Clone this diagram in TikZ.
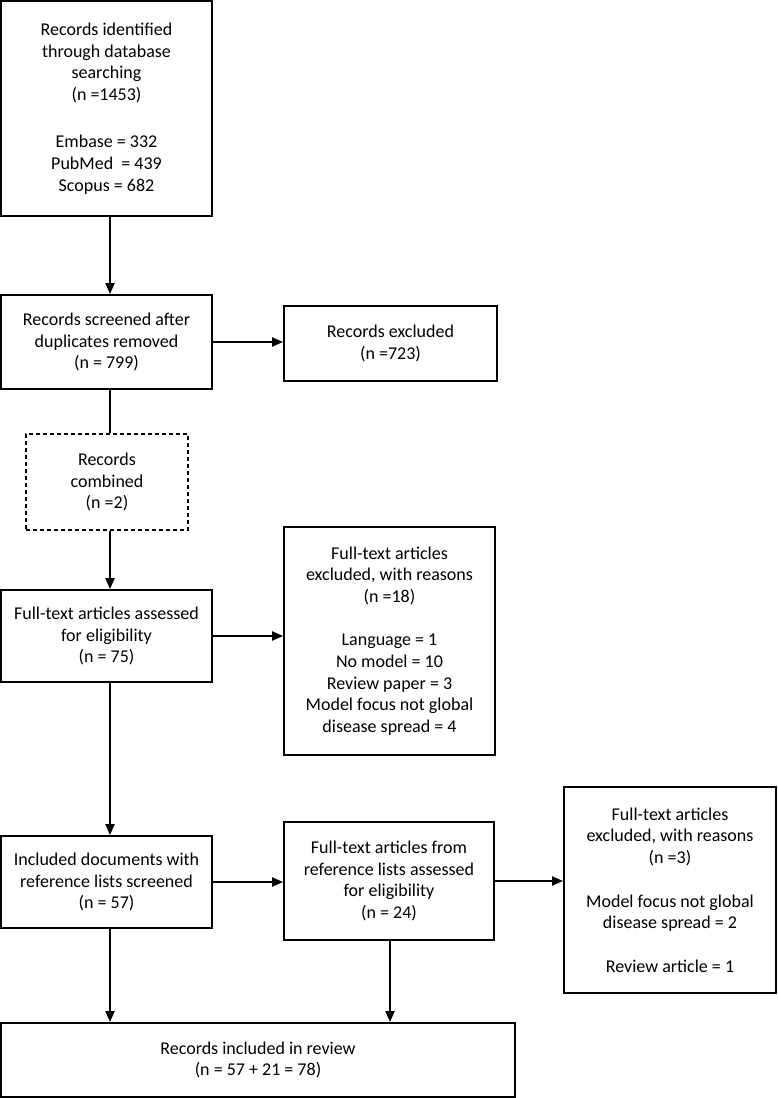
\documentclass[tikz,border=0pt]{standalone}
\usepackage{fontspec}
\setmainfont{Carlito}
\usetikzlibrary{arrows.meta}
\tikzset{
  box/.style={draw, line width=1.8pt, align=center, inner sep=0pt,
    font=\fontsize{18}{21.7}\selectfont},
  dbox/.style={box, line width=1.6pt, dash pattern=on 4pt off 3pt},
  arr/.style={line width=2pt, -{Triangle[length=11pt,width=9pt]}},
  ln/.style={line width=2pt}
}
\begin{document}
\begin{tikzpicture}[x=1pt,y=-1pt]
\useasboundingbox (0,0) rectangle (777,1098);
\node[box, minimum width=211pt, minimum height=215pt] (b1) at (106.5,108.5)
  {Records identified\\through database\\searching\\(n =1453)\\[25.5pt]Embase = 332\\PubMed\ \ = 439\\Scopus = 682};
\node[box, minimum width=211pt, minimum height=94pt] (b2) at (106.5,342)
  {Records screened after\\duplicates removed\\(n = 799)};
\node[box, minimum width=213pt, minimum height=75pt] (ex1) at (390.5,343.5)
  {Records excluded\\(n =723)};
\node[dbox, minimum width=162pt, minimum height=96pt] (comb) at (107,482)
  {Records\\combined\\(n =2)};
\node[box, minimum width=211pt, minimum height=92pt] (b3) at (106.5,636)
  {Full-text articles assessed\\for eligibility\\(n = 75)};
\node[box, minimum width=211pt, minimum height=228pt] (ex2) at (389.5,641)
  {Full-text articles\\excluded, with reasons\\(n =18)\\[21.7pt]Language = 1\\No model = 10\\Review paper = 3\\Model focus not global\\disease spread = 4};
\node[box, minimum width=211pt, minimum height=92pt] (b4) at (106.5,882)
  {Included documents with\\reference lists screened\\(n = 57)};
\node[box, minimum width=210pt, minimum height=118pt] (b5) at (389,881)
  {Full-text articles from\\reference lists assessed\\for eligibility\\(n = 24)};
\node[box, minimum width=212pt, minimum height=206pt] (ex3) at (670,890)
  {Full-text articles\\excluded, with reasons\\(n =3)\\[21.7pt]Model focus not global\\disease spread = 2\\[21.7pt]Review article = 1};
\node[box, minimum width=514pt, minimum height=74pt] (b7) at (258,1060)
  {Records included in review\\(n = 57 + 21 = 78)};

\draw[arr] ([xshift=3.5pt]b1.south) -- ([xshift=3.5pt]b2.north);
\draw[arr] (b2.east) -- (b2.east -| ex1.west);
\draw[ln] ([xshift=3.5pt]b2.south) -- ([xshift=3pt]comb.north);
\draw[arr] ([xshift=3pt]comb.south) -- ([xshift=3.5pt]b3.north);
\draw[arr] (b3.east) -- (b3.east -| ex2.west);
\draw[arr] ([xshift=3.5pt]b3.south) -- ([xshift=3.5pt]b4.north);
\draw[arr] (b4.east) -- (b4.east -| b5.west);
\draw[arr] (b5.east) -- (b5.east -| ex3.west);
\draw[arr] ([xshift=3.5pt]b4.south) -- ([xshift=3.5pt]b4.south |- b7.north);
\draw[arr] ([xshift=1pt]b5.south) -- ([xshift=1pt]b5.south |- b7.north);
\end{tikzpicture}
\end{document}
